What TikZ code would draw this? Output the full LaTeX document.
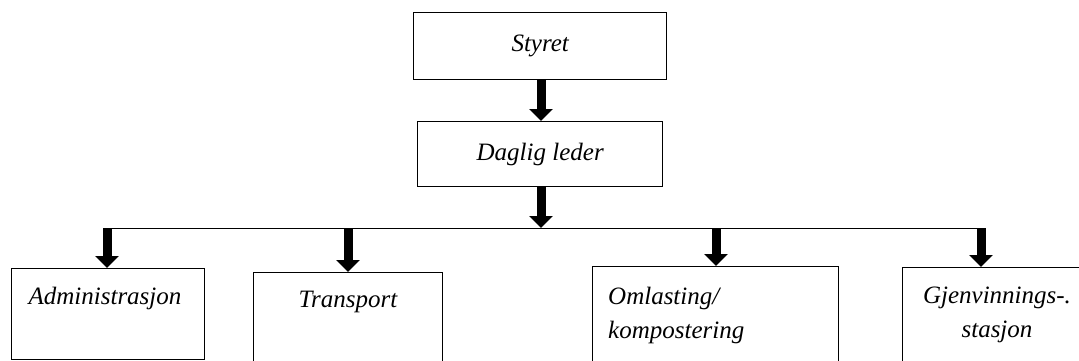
\documentclass[tikz,border=0pt]{standalone}
\usepackage{fontspec}
\setmainfont{Liberation Serif}
\usetikzlibrary{arrows.meta}
\begin{document}
\begin{tikzpicture}[x=1pt,y=-1pt,
  box/.style={draw=black,line width=1.4pt,fill=white},
  txt/.style={font=\fontsize{25}{29}\selectfont\itshape},
  lbl/.style={txt,inner sep=0pt},
  bigarrow/.style={line width=9pt,-{Triangle[width=23pt,length=12pt]}},
  thinline/.style={line width=1pt}]
\useasboundingbox (0,0) rectangle (1079,360);
\clip (0,0) rectangle (1079,360);
% boxes
\node[box,txt,minimum width=253pt,minimum height=67pt,anchor=north west] (styret) at (413,12) {Styret};
\node[box,txt,minimum width=245pt,minimum height=65pt,anchor=north west] (leder) at (417,121) {Daglig leder};
\node[box,minimum width=193pt,minimum height=91pt,anchor=north west] (adm) at (11,268) {};
\node[box,minimum width=189pt,minimum height=110pt,anchor=north west] (tra) at (253,272) {};
\node[box,minimum width=246pt,minimum height=110pt,anchor=north west] (oml) at (592,266) {};
\node[box,minimum width=190pt,minimum height=110pt,anchor=north west] (gje) at (902,267) {};
% texts
\node[lbl] (admt) at (105,298) {Administrasjon};
\node[lbl] (trat) at (348,302) {Transport};
\node[lbl,anchor=west] (omlt1) at (608,298) {Omlasting/};
\node[lbl,anchor=west] (omlt2) at (608,332) {kompostering};
\node[lbl] (gjet1) at (997,298) {Gjenvinnings-.};
\node[lbl] (gjet2) at (997,332) {stasjon};
% connectors
\coordinate (hub) at (541,228);
\coordinate (hl) at (107,228);
\coordinate (hr) at (981,228);
\draw[thinline] (hl) -- (hr);
\draw[bigarrow] (styret.south -| hub) -- (leder.north -| hub);
\draw[bigarrow] (leder.south -| hub) -- (hub);
\draw[bigarrow] (hl) -- (hl |- adm.north);
\coordinate (ht) at (348,228);
\coordinate (ho) at (716,228);
\draw[bigarrow] (ht) -- (ht |- tra.north);
\draw[bigarrow] (ho) -- (ho |- oml.north);
\draw[bigarrow] (hr) -- (hr |- gje.north);
\end{tikzpicture}
\end{document}
